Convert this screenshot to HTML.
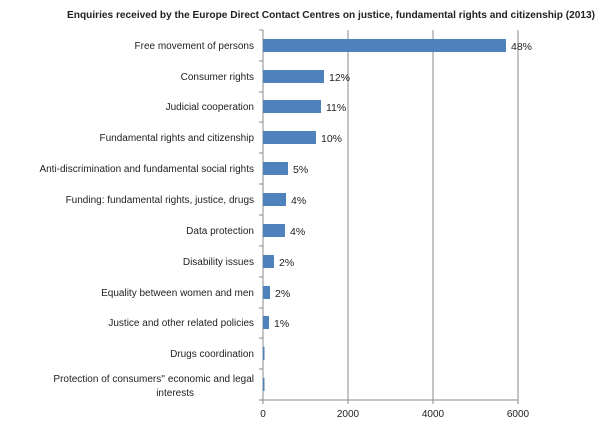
<!DOCTYPE html>
<html><head><style>
body{margin:0;background:#fff;}
svg{display:block;font-family:"Liberation Sans",sans-serif;}
</style></head><body>
<svg width="600" height="427" xmlns="http://www.w3.org/2000/svg">
<text x="67" y="18" font-size="10.5" font-weight="bold" textLength="528" lengthAdjust="spacingAndGlyphs" fill="#222">Enquiries received by the Europe Direct Contact Centres on justice, fundamental rights and citizenship (2013)</text>
<g stroke="#8a8a8a" stroke-width="1">
<line x1="348" y1="30" x2="348" y2="400"/>
<line x1="433" y1="30" x2="433" y2="400"/>
<line x1="518" y1="30" x2="518" y2="400"/>
<line x1="263" y1="30" x2="263" y2="400"/>
<line x1="263" y1="400" x2="518" y2="400"/>
<line x1="263" y1="400" x2="263" y2="404"/><line x1="348" y1="400" x2="348" y2="404"/><line x1="433" y1="400" x2="433" y2="404"/><line x1="518" y1="400" x2="518" y2="404"/>
<line x1="259" y1="30" x2="263" y2="30"/><line x1="259" y1="61" x2="263" y2="61"/><line x1="259" y1="92" x2="263" y2="92"/><line x1="259" y1="122" x2="263" y2="122"/><line x1="259" y1="153" x2="263" y2="153"/><line x1="259" y1="184" x2="263" y2="184"/><line x1="259" y1="215" x2="263" y2="215"/><line x1="259" y1="246" x2="263" y2="246"/><line x1="259" y1="277" x2="263" y2="277"/><line x1="259" y1="308" x2="263" y2="308"/><line x1="259" y1="338" x2="263" y2="338"/><line x1="259" y1="369" x2="263" y2="369"/><line x1="259" y1="400" x2="263" y2="400"/>
</g>
<g fill="#4f81bd">
<rect x="263" y="39" width="243" height="13"/>
<rect x="263" y="70" width="61" height="13"/>
<rect x="263" y="100" width="58" height="13"/>
<rect x="263" y="131" width="53" height="13"/>
<rect x="263" y="162" width="25" height="13"/>
<rect x="263" y="193" width="23" height="13"/>
<rect x="263" y="224" width="22" height="13"/>
<rect x="263" y="255" width="11" height="13"/>
<rect x="263" y="286" width="7" height="13"/>
<rect x="263" y="316" width="6" height="13"/>
<rect x="263" y="347" width="1.5" height="13"/>
<rect x="263" y="378" width="1.5" height="13"/>
</g>
<g font-size="10.5" fill="#222">
<text x="511" y="50">48%</text>
<text x="329" y="81">12%</text>
<text x="326" y="111">11%</text>
<text x="321" y="142">10%</text>
<text x="293" y="173">5%</text>
<text x="291" y="204">4%</text>
<text x="290" y="235">4%</text>
<text x="279" y="266">2%</text>
<text x="275" y="297">2%</text>
<text x="274" y="327">1%</text>
</g>
<g font-size="10" fill="#222" text-anchor="end">
<text x="254" y="49">Free movement of persons</text>
<text x="254" y="80">Consumer rights</text>
<text x="254" y="110">Judicial cooperation</text>
<text x="254" y="141">Fundamental rights and citizenship</text>
<text x="254" y="172">Anti-discrimination and fundamental social rights</text>
<text x="254" y="203">Funding: fundamental rights, justice, drugs</text>
<text x="254" y="234">Data protection</text>
<text x="254" y="265">Disability issues</text>
<text x="254" y="296">Equality between women and men</text>
<text x="254" y="326">Justice and other related policies</text>
<text x="254" y="357">Drugs coordination</text>
<text x="254" y="382">Protection of consumers'' economic and legal</text>
<text x="194" y="396">interests</text>
</g>
<g font-size="10" fill="#222" text-anchor="middle">
<text x="263" y="417">0</text>
<text x="348" y="417">2000</text>
<text x="433" y="417">4000</text>
<text x="518" y="417">6000</text>
</g>
</svg>
</body></html>
